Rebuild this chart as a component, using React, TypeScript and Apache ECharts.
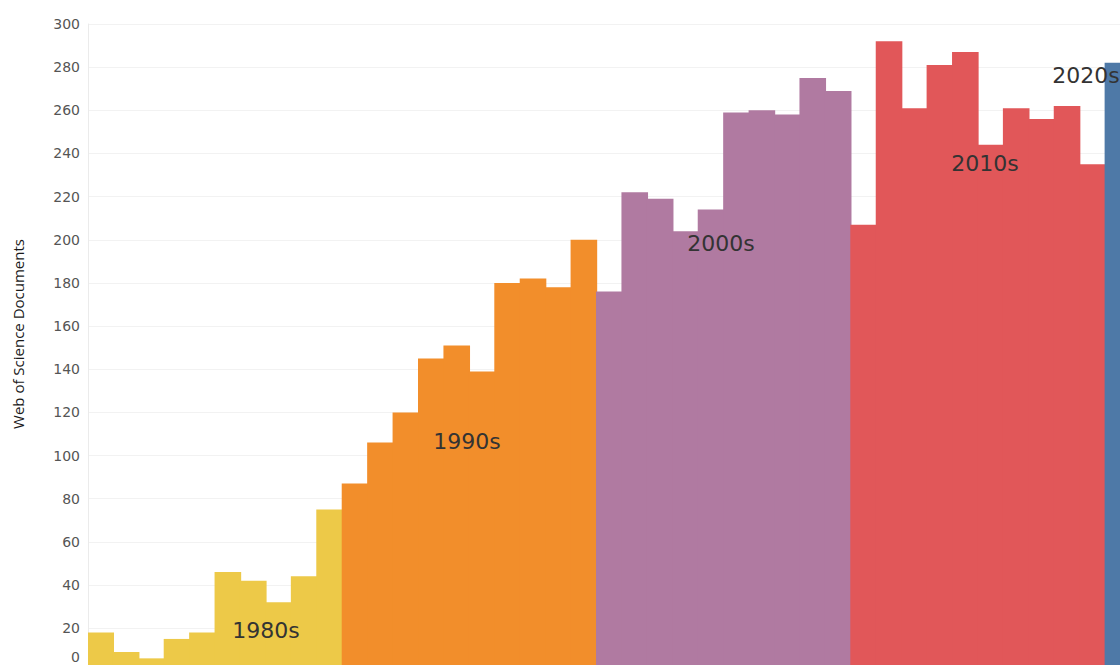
import React, { useEffect, useRef } from "react";
import * as echarts from "echarts";

const years: string[] = [];
for (let y = 1980; y <= 2020; y++) years.push(String(y));

const docs1980s = [18, 9, 6, 15, 18, 46, 42, 32, 44, 75];
const docs1990s = [87, 106, 120, 145, 151, 139, 180, 182, 178, 200];
const docs2000s = [176, 222, 219, 204, 214, 259, 260, 258, 275, 269];
const docs2010s = [207, 292, 261, 281, 287, 244, 261, 256, 262, 235];
const docs2020s = [282];

const decadeLabels = ["1980s", "1990s", "2000s", "2010s", "2020s"];
const decadeColors = ["#EDC948", "#F28E2B", "#B07AA1", "#E15759", "#4E79A7"];
const yTicks = { min: 0, max: 300, interval: 20 };

const allDocs = [...docs1980s, ...docs1990s, ...docs2000s, ...docs2010s, ...docs2020s];

export default function App() {
  const ref = useRef<HTMLDivElement>(null);
  useEffect(() => {
    if (!ref.current) return;
    const chart = echarts.init(ref.current, undefined, { renderer: "svg" });
    const labelPos = [
      [266, 630],
      [467, 441],
      [721, 243],
      [985, 163],
      [1086, 75],
    ];
    chart.setOption({
      animation: false,
      backgroundColor: "#ffffff",
      grid: { left: 88, top: 24, width: 41 * 25.43, height: 647.3 },
      xAxis: {
        type: "category",
        data: years,
        axisLine: { show: false },
        axisTick: { show: false },
        axisLabel: { show: false },
      },
      yAxis: {
        type: "value",
        min: yTicks.min,
        max: yTicks.max,
        interval: yTicks.interval,
        axisLine: { show: true, lineStyle: { color: "#ebebeb", width: 1 } },
        axisTick: { show: false },
        splitLine: { lineStyle: { color: "#f2f2f2", width: 1 } },
        axisLabel: {
          showMinLabel: false,
          color: "#555555",
          fontSize: 14,
          fontFamily: "DejaVu Sans",
          margin: 8,
        },
      },
      series: [
        {
          type: "bar",
          data: allDocs.map((v, i) => ({
            value: v,
            itemStyle: { color: decadeColors[Math.floor(i / 10)] },
          })),
          barWidth: 26.6,
        },
      ],
      graphic: [
        ...decadeLabels.map((t, i) => ({
          type: "text",
          x: labelPos[i][0],
          y: labelPos[i][1],
          z: 100,
          style: {
            text: t,
            fill: "#333333",
            font: "22px 'DejaVu Sans'",
            textAlign: "center",
            textVerticalAlign: "middle",
          },
        })),
        {
          type: "text",
          x: 80,
          y: 657,
          style: {
            text: "0",
            fill: "#555555",
            font: "14px 'DejaVu Sans'",
            textAlign: "right",
            textVerticalAlign: "middle",
          },
        },
        {
          type: "text",
          x: 18,
          y: 334,
          rotation: Math.PI / 2,
          style: {
            text: "Web of Science Documents",
            fill: "#1a1a1a",
            font: "15px 'Open Sans'",
            textAlign: "center",
            textVerticalAlign: "middle",
          },
        },
      ],
    });
    return () => chart.dispose();
  }, []);
  return (
    <div
      style={{
        position: "fixed",
        left: 0,
        top: 0,
        width: 1120,
        height: 665,
        overflow: "hidden",
        background: "#fff",
      }}
    >
      <div ref={ref} style={{ width: 1140, height: 680 }} />
    </div>
  );
}
